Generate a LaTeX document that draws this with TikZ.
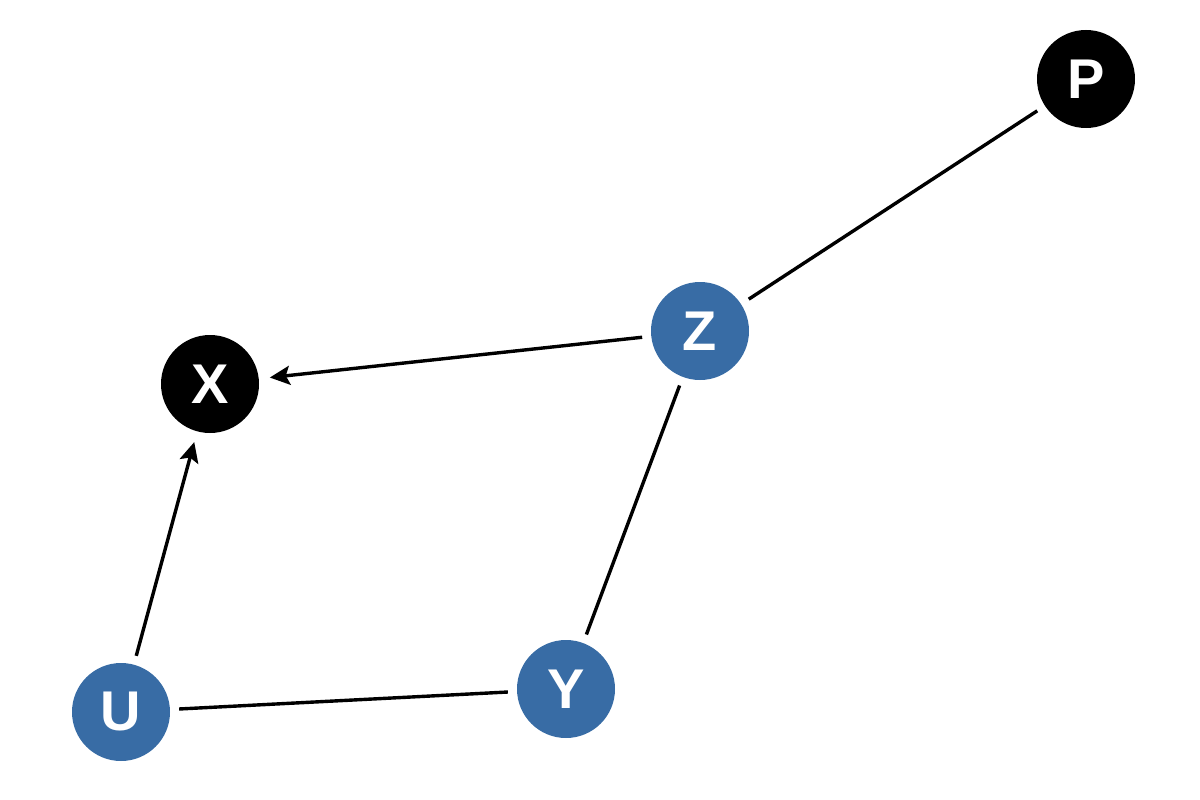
\documentclass[tikz,border=0pt]{standalone}
\usepackage{fontspec}
\setmainfont{Liberation Sans}
\usetikzlibrary{arrows.meta}
\definecolor{nodeblue}{HTML}{386CA5}
\begin{document}
\begin{tikzpicture}[x=1pt,y=-1pt,
  vert/.style={circle,minimum size=98pt,inner sep=0pt,text=white,
    font=\fontsize{56}{56}\selectfont\bfseries},
  blk/.style={vert,fill=black},
  blu/.style={vert,fill=nodeblue},
  edge/.style={line width=3.4pt,shorten >=9pt,shorten <=9pt},
  arr/.style={edge,shorten >=11pt,-{Stealth[length=20pt,width=19pt,inset=4pt]}}]
\useasboundingbox (0,0) rectangle (1200,800);
\node[blk] (P) at (1086,79) {P};
\node[blu] (Z) at (700,331) {Z};
\node[blk] (X) at (210,384) {X};
\node[blu] (U) at (121,712) {U};
\node[blu] (Y) at (566,689) {Y};
\draw[edge] (P) -- (Z);
\draw[arr] (Z) -- (X);
\draw[arr] (U) -- (X);
\draw[edge] (U) -- (Y);
\draw[edge] (Z) -- (Y);
\end{tikzpicture}
\end{document}
